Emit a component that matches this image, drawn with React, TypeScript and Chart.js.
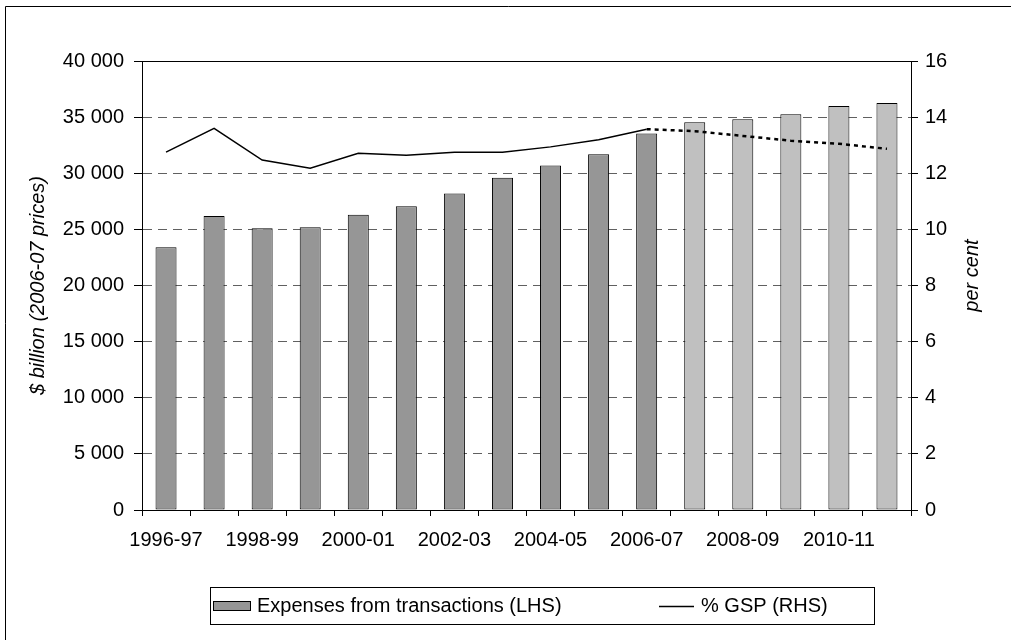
import React, { useEffect, useRef } from "react";
import { Chart, registerables } from "chart.js";

Chart.register(...registerables);

const categories = [
  "1996-97", "1997-98", "1998-99", "1999-00", "2000-01", "2001-02", "2002-03", "2003-04",
  "2004-05", "2005-06", "2006-07", "2007-08", "2008-09", "2009-10", "2010-11", "2011-12",
];
const expenses = [23400, 26200, 25100, 25200, 26300, 27050, 28200, 29600, 30700, 31700, 33550, 34550, 34800, 35250, 36000, 36250];
const gspPercent = [12.75, 13.6, 12.47, 12.18, 12.71, 12.64, 12.75, 12.75, 12.94, 13.19, 13.57, 13.5, 13.33, 13.16, 13.05, 12.87];
const lastActualIndex = 10;
const leftTicks = { min: 0, max: 40000, step: 5000 };
const rightTicks = { min: 0, max: 16, step: 2 };
const rightTitle = "per cent";

const FONT = '"Liberation Sans", Arial, sans-serif';
const DARK = "#969696";
const LIGHT = "#C0C0C0";

const fmt = (v: number) => String(v).replace(/\B(?=(\d{3})+(?!\d))/g, " ");

const decorPlugin = {
  id: "decor",
  afterDraw(chart: any) {
    const ctx = chart.ctx as CanvasRenderingContext2D;
    const a = chart.chartArea;
    ctx.save();
    // plot area frame
    ctx.strokeStyle = "#000";
    ctx.lineWidth = 1;
    ctx.setLineDash([]);
    ctx.strokeRect(Math.round(a.left) + 0.5, Math.round(a.top) + 0.5, Math.round(a.right - a.left), Math.round(a.bottom - a.top));
    // outer frame (top and left edges)
    ctx.beginPath();
    ctx.moveTo(5.5, chart.height + 2);
    ctx.lineTo(5.5, 6.5);
    ctx.lineTo(chart.width + 2, 6.5);
    ctx.stroke();
    // right axis title, reading upwards
    ctx.save();
    ctx.translate(972, (a.top + a.bottom) / 2 - 10);
    ctx.rotate(-Math.PI / 2);
    ctx.fillStyle = "#000";
    ctx.font = `italic 20px ${FONT}`;
    ctx.textAlign = "center";
    ctx.textBaseline = "middle";
    ctx.fillText(rightTitle, 0, 0);
    ctx.restore();
    // legend
    const ds = chart.data.datasets;
    ctx.strokeRect(210.5, 587.5, 664, 37);
    ctx.fillStyle = DARK;
    ctx.fillRect(213, 601, 38, 10);
    ctx.strokeRect(213.5, 601.5, 37, 9);
    ctx.fillStyle = "#000";
    ctx.font = `20px ${FONT}`;
    ctx.textBaseline = "middle";
    ctx.textAlign = "left";
    ctx.fillText(ds[0].label, 257, 606);
    ctx.beginPath();
    ctx.lineWidth = 1.5;
    ctx.moveTo(659, 606.5);
    ctx.lineTo(694, 606.5);
    ctx.stroke();
    ctx.fillText(ds[1].label, 701, 606);
    ctx.restore();
  },
};

export default function App() {
  const ref = useRef<HTMLCanvasElement | null>(null);
  useEffect(() => {
    if (!ref.current) return;
    const tickFont = { family: FONT, size: 20 };
    const titleFont = { family: FONT, size: 20, style: "italic" as const };
    const chart = new Chart(ref.current, {
      type: "bar",
      data: {
        labels: categories,
        datasets: [
          {
            type: "bar",
            label: "Expenses from transactions (LHS)",
            data: expenses,
            yAxisID: "y",
            backgroundColor: expenses.map((_, i) => (i <= lastActualIndex ? DARK : LIGHT)),
            borderColor: "#000",
            borderWidth: 1,
            borderSkipped: false,
            barPercentage: 0.437,
            categoryPercentage: 1,
            order: 1,
          },
          {
            type: "line",
            label: "% GSP (RHS)",
            data: gspPercent,
            yAxisID: "y1",
            borderColor: "#000",
            borderWidth: 1.5,
            pointRadius: 0,
            tension: 0,
            order: 0,
            segment: {
              borderDash: (c: any) => (c.p0DataIndex >= lastActualIndex ? [4, 4] : undefined),
              borderWidth: (c: any) => (c.p0DataIndex >= lastActualIndex ? 2.5 : 1.5),
            },
          } as any,
        ],
      },
      options: {
        responsive: false,
        animation: false,
        devicePixelRatio: 1,
        layout: { padding: { left: 26, right: 27, top: 61, bottom: 90 } },
        plugins: { legend: { display: false }, tooltip: { enabled: false } },
        scales: {
          x: {
            offset: true,
            grid: { display: true, drawOnChartArea: false, drawTicks: true, tickLength: 6, offset: true, tickColor: "#000" },
            border: { display: true, color: "#000" },
            ticks: {
              autoSkip: false,
              maxRotation: 0,
              padding: 12,
              color: "#000",
              font: tickFont,
              callback: (_v: any, i: number) => (i % 2 === 0 ? categories[i] : ""),
            },
            afterFit: (s: any) => { s.height = 40; },
          },
          y: {
            position: "left",
            min: leftTicks.min,
            max: leftTicks.max,
            ticks: { stepSize: leftTicks.step, padding: 10, color: "#000", font: tickFont, callback: (v: any) => fmt(Number(v)) },
            grid: { color: "#606060", lineWidth: 1, tickColor: "#000", tickLength: 8, tickBorderDash: [] },
            border: { display: true, color: "#000", dash: [9, 6] },
            title: { display: true, text: "$ billion (2006-07 prices)", color: "#000", font: titleFont, padding: 0 },
            afterFit: (s: any) => { s.width = 116; },
          },
          y1: {
            position: "right",
            min: rightTicks.min,
            max: rightTicks.max,
            ticks: { stepSize: rightTicks.step, padding: 7, color: "#000", font: tickFont },
            grid: { drawOnChartArea: false, tickColor: "#000", tickLength: 7 },
            border: { display: true, color: "#000" },
            afterFit: (s: any) => { s.width = 73; },
          },
        },
      } as any,
      plugins: [decorPlugin],
    });
    return () => chart.destroy();
  }, []);
  return (
    <div style={{ position: "absolute", left: 0, top: 0, width: 1011, height: 640, background: "#fff" }}>
      <canvas ref={ref} width={1011} height={640} style={{ display: "block" }} />
    </div>
  );
}
